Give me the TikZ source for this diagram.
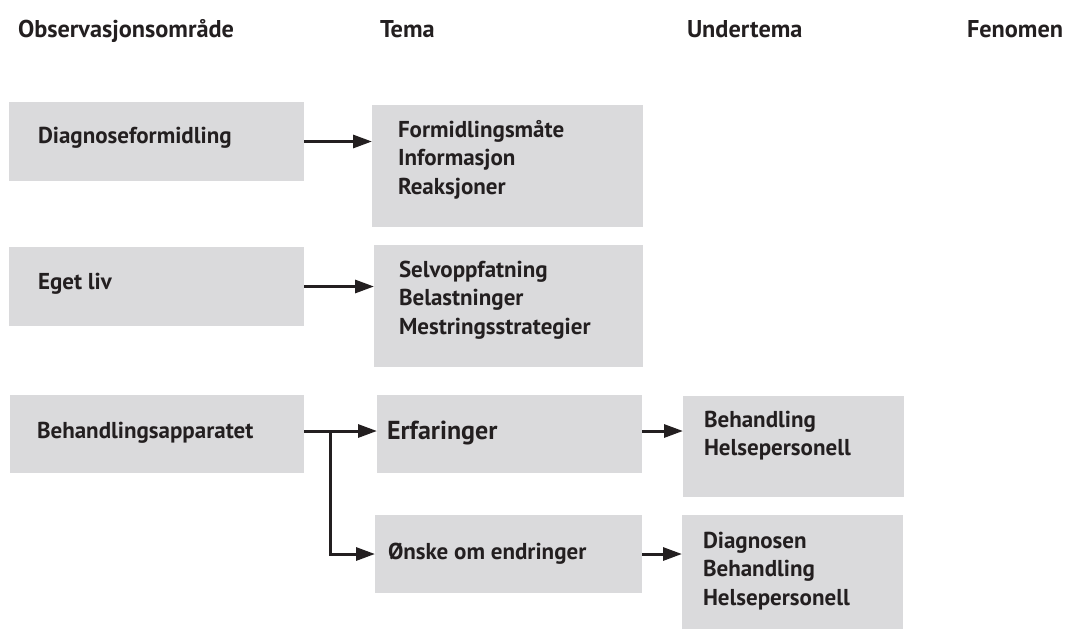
\documentclass[tikz,border=0pt]{standalone}
\usepackage{fontspec}
\setmainfont{PT Sans}
\usetikzlibrary{arrows.meta}
\definecolor{boxgray}{HTML}{DADADC}
\definecolor{ink}{HTML}{231F20}
\begin{document}
\begin{tikzpicture}[x=1pt,y=-1pt,
  box/.style={fill=boxgray, draw=none, inner sep=0pt, outer sep=0pt, anchor=north west},
  lbl/.style={inner sep=0pt, outer sep=0pt, text=ink, align=left,
    font=\fontsize{23}{28.5}\selectfont\bfseries},
  head/.style={lbl, anchor=base west, font=\fontsize{24.3}{28.5}\selectfont\bfseries},
  big/.style={lbl, font=\fontsize{26}{30}\selectfont\bfseries},
  link/.style={draw=ink, line width=3pt, -{Triangle[length=19pt,width=13pt]}}]
\useasboundingbox (0,0) rectangle (1077,630);

% column headings
\node[head] (h1) at (18,37) {Observasjonsområde};
\node[head] (h2) at (380,37) {Tema};
\node[head] (h3) at (687,37) {Undertema};
\node[head] (h4) at (967,37) {Fenomen};

% grey boxes
\node[box, minimum width=295pt, minimum height=79pt]  (a1) at (9,102) {};
\node[box, minimum width=271pt, minimum height=122pt] (b1) at (372,105) {};
\node[box, minimum width=295pt, minimum height=79pt]  (a2) at (9,247) {};
\node[box, minimum width=269pt, minimum height=122pt] (b2) at (374,245) {};
\node[box, minimum width=294pt, minimum height=78pt]  (a3) at (10,395) {};
\node[box, minimum width=265pt, minimum height=78pt]  (b3) at (377,395) {};
\node[box, minimum width=221pt, minimum height=101pt] (c3) at (683,396) {};
\node[box, minimum width=267pt, minimum height=78pt]  (b4) at (375,515) {};
\node[box, minimum width=221pt, minimum height=114pt] (c4) at (682,515) {};

% box texts
\node[lbl, anchor=base west] (ta1) at (38,143) {Diagnoseformidling};
\node[lbl, anchor=base west] (ta2) at (38,289) {Eget liv};
\node[lbl, anchor=base west] (ta3) at (37,438) {Behandlingsapparatet};
\node[lbl, anchor=north west] (tb1) at (398,118)
  {\rule{0pt}{19pt}Formidlingsmåte\\Informasjon\\Reaksjoner};
\node[lbl, anchor=north west] (tb2) at (399,258)
  {\rule{0pt}{19pt}Selvoppfatning\\Belastninger\\Mestringsstrategier};
\node[big, anchor=base west] (tb3) at (387,439) {Erfaringer};
\node[lbl, anchor=base west] (tb4) at (388,559) {Ønske om endringer};
\node[lbl, anchor=north west] (tc3) at (704,408)
  {\rule{0pt}{19pt}Behandling\\Helsepersonell};
\node[lbl, anchor=north west] (tc4) at (703,529)
  {\rule{0pt}{19pt}Diagnosen\\Behandling\\Helsepersonell};

% connectors
\draw[link] (a1.east) -- (b1.west |- a1.east);
\draw[link] (a2.east) -- (b2.west |- a2.east);
\coordinate (j) at (330,431);
\draw[link] (a3.east |- j) -- (b3.west |- j);
\draw[link] (j) |- (b4.west);
\draw[link] (b3.east |- j) -- (c3.west |- j);
\draw[link] (b4.east) -- (c4.west |- b4.east);
\end{tikzpicture}
\end{document}
